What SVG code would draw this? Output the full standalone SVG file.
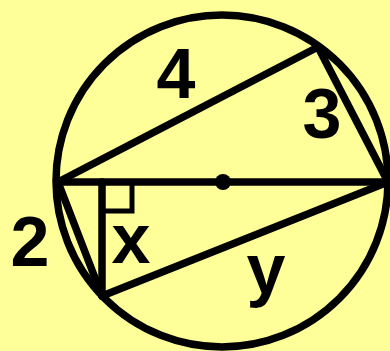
<svg xmlns="http://www.w3.org/2000/svg" width="390" height="351" viewBox="0 0 390 351">
<style>
.ln{stroke:#000;stroke-width:7.5;fill:none;stroke-linecap:round;stroke-linejoin:round}
.sq{stroke:#000;stroke-width:5;fill:none}
.lb{font-family:"Liberation Sans",Arial,sans-serif;font-weight:bold;font-size:70px;fill:#000;text-anchor:middle}
</style>
<rect width="390" height="351" fill="#FFFF99"/>
<g id="circle"><circle class="ln" cx="222" cy="181" r="166"/></g>
<g id="connectors">
<line class="ln" x1="58" y1="182" x2="388" y2="182"/>
<line class="ln" x1="58" y1="182" x2="318" y2="47"/>
<line class="ln" x1="318" y1="47" x2="388" y2="182"/>
<line class="ln" x1="58" y1="182" x2="102" y2="296"/>
<line class="ln" x1="102" y1="182" x2="102" y2="296"/>
<line class="ln" x1="102" y1="296" x2="388" y2="182"/>
<polyline class="sq" points="102,211 132,211 132,182"/>
</g>
<g id="center"><circle cx="223" cy="182" r="8" fill="#000"/></g>
<g id="labels">
<text class="lb" x="176" y="98">4</text>
<text class="lb" x="322" y="138">3</text>
<text class="lb" x="30" y="266">2</text>
<text class="lb" x="131" y="263">x</text>
<text class="lb" x="266" y="293">y</text>
</g>
</svg>
